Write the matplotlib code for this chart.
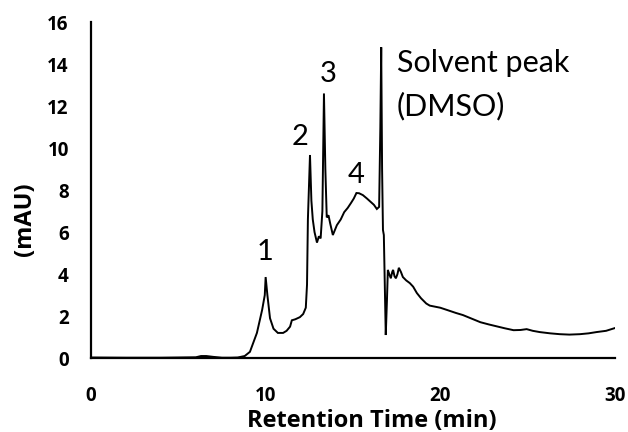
import matplotlib
matplotlib.use("Agg")
import matplotlib.pyplot as plt

time_min = [0.0, 2.0, 4.0, 6.0, 6.3, 6.6, 7.0, 7.5, 8.0, 8.4, 8.8, 9.1, 9.5, 9.8, 9.95, 10.0, 10.1, 10.25, 10.45,
            10.7, 11.0, 11.2, 11.4, 11.5, 11.7, 11.96, 12.15, 12.3, 12.37, 12.42, 12.54, 12.62, 12.7, 12.8,
            12.94, 13.05, 13.15, 13.25, 13.34, 13.42, 13.5, 13.6, 13.7, 13.85, 14.08, 14.3, 14.5, 14.7, 14.9,
            15.05, 15.2, 15.35, 15.57, 15.8, 16.0, 16.2, 16.37, 16.5, 16.57, 16.62, 16.67, 16.72, 16.77, 16.88,
            16.95, 17.0, 17.08, 17.17, 17.25, 17.3, 17.38, 17.46, 17.55, 17.63, 17.75, 17.86, 18.05, 18.26,
            18.45, 18.66, 18.9, 19.2, 19.4, 19.7, 20.0, 20.4, 20.9, 21.3, 21.8, 22.3, 22.8, 23.2, 23.7, 24.2,
            24.6, 24.95, 25.3, 25.7, 26.3, 26.85, 27.4, 28.0, 28.5, 28.95, 29.5, 30.0]
absorbance_mau = [0.03, 0.02, 0.02, 0.04, 0.1, 0.1, 0.06, 0.02, 0.02, 0.03, 0.1, 0.3, 1.2, 2.3, 3.0, 3.86, 3.0, 1.9, 1.4,
                  1.2, 1.2, 1.3, 1.5, 1.8, 1.85, 1.95, 2.1, 2.4, 3.5, 6.6, 9.67, 7.5, 6.6, 6.0,
                  5.5, 5.8, 5.7, 7.0, 12.6, 9.0, 6.7, 6.8, 6.4, 5.86, 6.33, 6.6, 6.95, 7.15, 7.4,
                  7.6, 7.86, 7.85, 7.76, 7.6, 7.45, 7.3, 7.1, 7.2, 11.0, 14.8, 9.0, 6.1, 5.86, 1.1,
                  2.8, 4.2, 4.0, 3.8, 4.1, 4.2, 3.9, 3.8, 4.0, 4.3, 4.1, 3.86, 3.7, 3.57,
                  3.4, 3.1, 2.85, 2.6, 2.5, 2.45, 2.4, 2.29, 2.15, 2.05, 1.88, 1.71, 1.6, 1.52, 1.42, 1.33,
                  1.34, 1.38, 1.3, 1.24, 1.18, 1.14, 1.12, 1.14, 1.18, 1.24, 1.3, 1.43]

x_ticks = [0, 10, 20, 30]
y_ticks = [0, 2, 4, 6, 8, 10, 12, 14, 16]
peak_labels = ["1", "2", "3", "4"]
peak_label_x = [9.96, 11.96, 13.57, 15.2]
peak_label_y = [4.67, 10.14, 13.14, 8.33]

plt.rcParams['font.family'] = ['Open Sans', 'DejaVu Sans']
ann_font = ['Lato', 'DejaVu Sans']

fig = plt.figure(figsize=(6.28, 4.32), dpi=100)
ax = fig.add_axes([0.145, 0.171, 0.834, 0.778])
ax.plot(time_min, absorbance_mau, color='black', linewidth=1.4, solid_joinstyle='miter')
ax.set_xlim(0, 30)
ax.set_ylim(0, 16)
ax.set_xticks(x_ticks)
ax.set_yticks(y_ticks)
ax.tick_params(axis='y', length=0, labelsize=13.5, pad=16)
ax.tick_params(axis='x', length=0, labelsize=13.5, pad=20)
for lab in ax.get_xticklabels() + ax.get_yticklabels():
    lab.set_fontweight('bold')
ax.spines['top'].set_visible(False)
ax.spines['right'].set_visible(False)
ax.spines['left'].set_linewidth(1.6)
ax.spines['bottom'].set_linewidth(1.6)
ax.set_xlabel('Retention Time (min)', fontsize=17, fontweight='bold', va='baseline')
ax.xaxis.set_label_coords(0.536, -0.205)
ax.set_ylabel('(mAU)', fontsize=17, fontweight='bold', va='center')
ax.yaxis.set_label_coords(-0.126, 0.414)

for t, xx, yy in zip(peak_labels, peak_label_x, peak_label_y):
    ax.text(xx, yy, t, fontsize=21, ha='center', va='baseline', family=ann_font)
ax.text(17.5, 13.62, 'Solvent peak', fontsize=22, ha='left', va='baseline', family=ann_font)
ax.text(17.5, 11.57, '(DMSO)', fontsize=22, ha='left', va='baseline', family=ann_font)

fig.savefig('out.png', dpi=100)
